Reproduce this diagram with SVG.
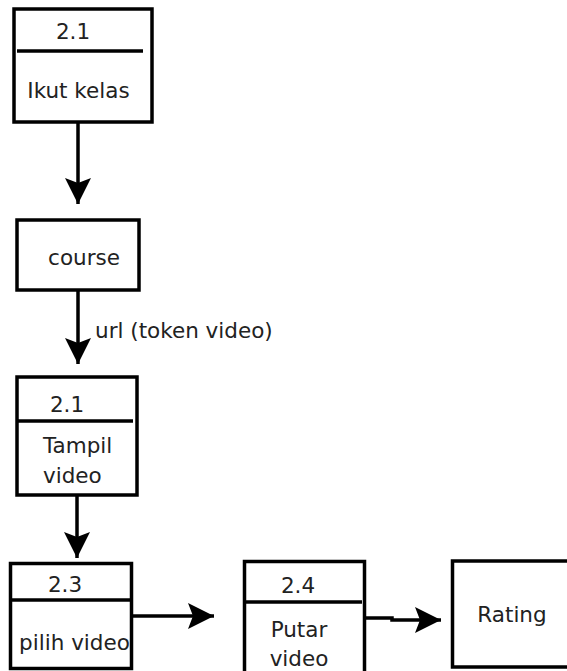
<svg xmlns="http://www.w3.org/2000/svg" width="567" height="671" viewBox="0 0 567 671">
  <defs>
    <style>
      .box { fill: #ffffff; stroke: #000000; stroke-width: 3.5; }
      .div { stroke: #000000; stroke-width: 3.5; }
      .lbl { font-family: "DejaVu Sans", "Liberation Sans", sans-serif; font-size: 21.5px; fill: #222222; }
      .mid { text-anchor: middle; }
      .flow { fill: none; stroke: #000000; stroke-width: 3.5; marker-end: url(#head); }
    </style>
    <marker id="head" viewBox="0 0 26 26" refX="26" refY="13" markerWidth="26" markerHeight="26" markerUnits="userSpaceOnUse" orient="auto">
      <path d="M0,0 L26,13 L0,26 L5,13 Z" fill="#000000"/>
    </marker>
  </defs>
  <rect width="567" height="671" fill="#ffffff"/>

  <!-- connectors -->
  <g id="connectors">
    <line class="flow" x1="78" y1="123" x2="78" y2="204"/>
    <line class="flow" x1="78" y1="291" x2="78" y2="364"/>
    <text class="lbl" x="95" y="338">url (token video)</text>
    <line class="flow" x1="77" y1="496" x2="77" y2="558"/>
    <line class="flow" x1="133" y1="616" x2="214" y2="616"/>
    <polyline class="flow" points="366,618 392,618 392,620 441,620"/>
  </g>

  <!-- process 2.1 : Ikut kelas -->
  <g id="p-ikut-kelas">
    <rect class="box" x="14" y="9" width="138" height="113"/>
    <line class="div" x1="17" y1="51" x2="143" y2="51"/>
    <text class="lbl mid" x="73" y="39">2.1</text>
    <text class="lbl mid" x="78.5" y="98">Ikut kelas</text>
  </g>

  <!-- data store : course -->
  <g id="s-course">
    <rect class="box" x="17" y="220" width="122" height="70"/>
    <text class="lbl mid" x="84" y="265">course</text>
  </g>

  <!-- process 2.1 : Tampil video -->
  <g id="p-tampil-video">
    <rect class="box" x="17" y="377" width="120" height="118"/>
    <line class="div" x1="17" y1="421" x2="133" y2="421"/>
    <text class="lbl mid" x="67" y="412">2.1</text>
    <text class="lbl" x="43" y="453">Tampil</text>
    <text class="lbl" x="43" y="483">video</text>
  </g>

  <!-- process 2.3 : pilih video -->
  <g id="p-pilih-video">
    <rect class="box" x="10.5" y="563.5" width="121" height="105"/>
    <line class="div" x1="10" y1="600" x2="132" y2="600"/>
    <text class="lbl mid" x="65" y="592">2.3</text>
    <text class="lbl mid" x="74.5" y="650">pilih video</text>
  </g>

  <!-- process 2.4 : Putar video -->
  <g id="p-putar-video">
    <rect class="box" x="244.5" y="561.5" width="120" height="120"/>
    <line class="div" x1="244" y1="602" x2="362" y2="602"/>
    <text class="lbl mid" x="298" y="593">2.4</text>
    <text class="lbl mid" x="299" y="637">Putar</text>
    <text class="lbl mid" x="299" y="666">video</text>
  </g>

  <!-- data store : Rating -->
  <g id="s-rating">
    <rect class="box" x="452.5" y="561" width="130" height="106"/>
    <text class="lbl mid" x="512" y="622">Rating</text>
  </g>
</svg>
